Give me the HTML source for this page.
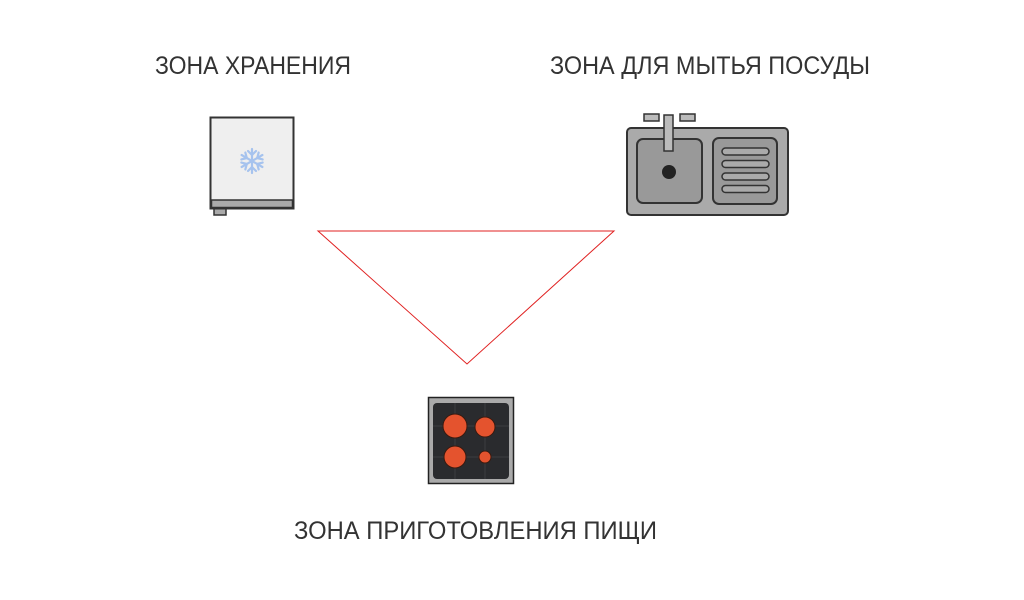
<!DOCTYPE html>
<html><head><meta charset="utf-8"><style>html,body{margin:0;padding:0;background:#fff;}svg{display:block}</style></head>
<body>
<svg width="1024" height="600" viewBox="0 0 1024 600" xmlns="http://www.w3.org/2000/svg">
<rect width="1024" height="600" fill="#fff"/>
<g font-family="Liberation Sans, sans-serif" font-size="25" fill="#333">
<text x="155" y="74" textLength="196" lengthAdjust="spacingAndGlyphs">ЗОНА ХРАНЕНИЯ</text>
<text x="550" y="74" textLength="320" lengthAdjust="spacingAndGlyphs">ЗОНА ДЛЯ МЫТЬЯ ПОСУДЫ</text>
<text x="294" y="539" textLength="363" lengthAdjust="spacingAndGlyphs">ЗОНА ПРИГОТОВЛЕНИЯ ПИЩИ</text>
</g>
<polygon points="318,231 614,231 467,364" fill="none" stroke="#e02020" stroke-width="1"/>
<!-- fridge -->
<rect x="214" y="208" width="12" height="7" fill="#aaa" stroke="#333" stroke-width="1.5"/>
<rect x="210.5" y="117.5" width="83" height="91" fill="#efefef" stroke="#333" stroke-width="2"/>
<rect x="211.5" y="200" width="81" height="7.5" fill="#aaa" stroke="#333" stroke-width="1.5"/>
<g stroke="#a6c3ee" stroke-width="2.2" stroke-linecap="round" transform="translate(252,161)">
<g id="arm"><line x1="0" y1="-12" x2="0" y2="12"/><line x1="-4" y1="-10" x2="0" y2="-6"/><line x1="4" y1="-10" x2="0" y2="-6"/><line x1="-4" y1="10" x2="0" y2="6"/><line x1="4" y1="10" x2="0" y2="6"/></g>
<use href="#arm" transform="rotate(60)"/><use href="#arm" transform="rotate(120)"/>
</g>
<!-- sink -->
<rect x="644" y="114" width="15" height="7" fill="#bbb" stroke="#333" stroke-width="1.5"/>
<rect x="680" y="114" width="15" height="7" fill="#bbb" stroke="#333" stroke-width="1.5"/>
<rect x="627" y="128" width="161" height="87" rx="4" fill="#aaa" stroke="#333" stroke-width="2"/>
<rect x="637" y="139" width="65" height="64" rx="6" fill="#999" stroke="#333" stroke-width="2"/>
<rect x="713" y="138" width="64" height="66" rx="6" fill="#999" stroke="#333" stroke-width="2"/>
<rect x="664" y="115" width="9" height="36" fill="#bbb" stroke="#333" stroke-width="1.5"/>
<circle cx="669" cy="172" r="7" fill="#222"/>
<g fill="#aaa" stroke="#333" stroke-width="1.5">
<rect x="722" y="148" width="47" height="7" rx="3.5"/>
<rect x="722" y="160.5" width="47" height="7" rx="3.5"/>
<rect x="722" y="173" width="47" height="7" rx="3.5"/>
<rect x="722" y="185.5" width="47" height="7" rx="3.5"/>
</g>
<!-- cooktop -->
<rect x="428.5" y="397.5" width="85" height="86" fill="#aaa" stroke="#222" stroke-width="1.5"/>
<rect x="433" y="403" width="76" height="76" rx="4" fill="#2a2b2e"/>
<g stroke="#3c3d40" stroke-width="1"><line x1="455" y1="403" x2="455" y2="479"/><line x1="485" y1="403" x2="485" y2="479"/><line x1="433" y1="426" x2="509" y2="426"/><line x1="433" y1="457" x2="509" y2="457"/></g>
<g fill="#e4532e" stroke="#3a1a10" stroke-width="1">
<circle cx="455" cy="426" r="12"/><circle cx="485" cy="427" r="10"/><circle cx="455" cy="457" r="11"/><circle cx="485" cy="457" r="6"/>
</g>
</svg>
</body></html>
